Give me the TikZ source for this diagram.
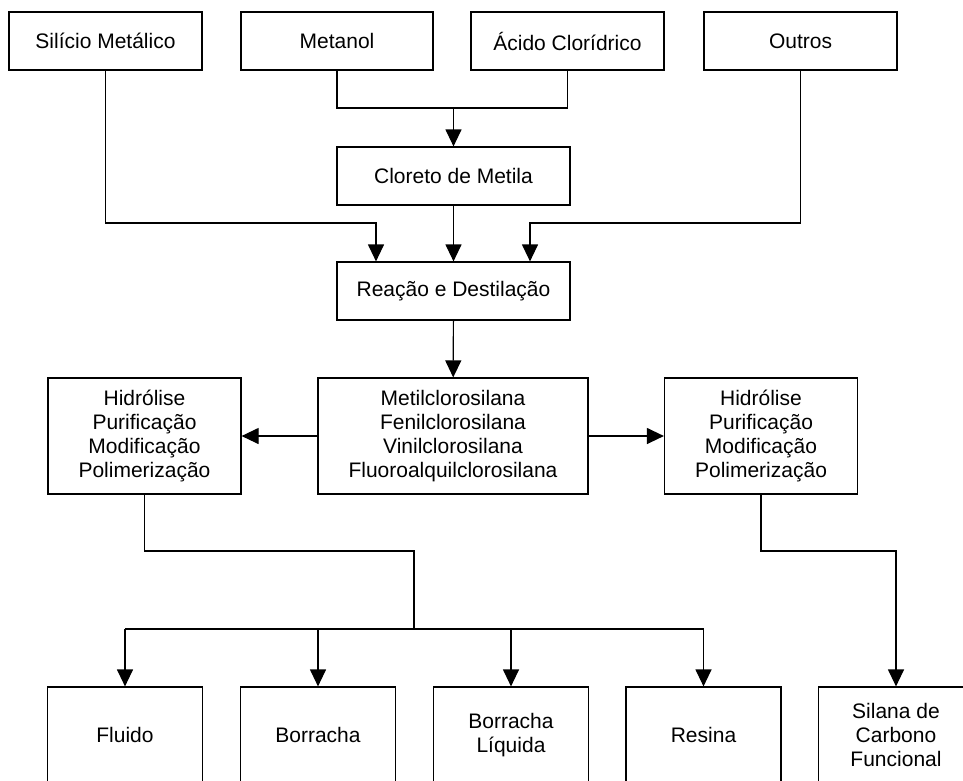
\documentclass[tikz,border=0pt]{standalone}
\usepackage{fontspec}
\setmainfont{Liberation Sans}
\usepackage{tikz}
\usetikzlibrary{arrows.meta}

\begin{document}
\begin{tikzpicture}[x=1pt,y=-1pt,>={Triangle[width=16pt,length=17pt]},line width=1.2pt,
    font=\fontsize{21}{24}\selectfont]

        \tikzstyle{caixa}=[draw=black,fill=white,text=black,align=center,inner sep=0pt,
            minimum height=58pt]
        \tikzstyle{grande}=[caixa,minimum height=116pt]
        \tikzstyle{fundo}=[caixa,minimum width=155pt,minimum height=96pt]

        \useasboundingbox (0,0) rectangle (963,780);
        \clip (0,0) rectangle (963,780);
        \fill[white] (0,0) rectangle (963,780);

        % entradas
        \node[caixa,minimum width=193pt] (sil)  at (105.5,41)  {Silício Metálico};
        \node[caixa,minimum width=192pt] (met)  at (337,41)    {Metanol};
        \node[caixa,minimum width=193pt] (acid) at (567.5,41)  {Ácido Clorídrico};
        \node[caixa,minimum width=193pt] (out)  at (800.5,41)  {Outros};

        \node[caixa,minimum width=233pt] (clo)  at (453.5,176) {Cloreto de Metila};
        \node[caixa,minimum width=233pt] (rea)  at (453.5,291) {Reação e Destilação};

        \node[grande,minimum width=270pt] (cls)  at (453,436)   {Metilclorosilana\\Fenilclorosilana\\Vinilclorosilana\\Fluoroalquilclorosilana};
        \node[grande,minimum width=193pt] (hidL) at (144.5,436) {Hidrólise\\Purificação\\Modificação\\Polimerização};
        \node[grande,minimum width=193pt] (hidR) at (761,436)   {Hidrólise\\Purificação\\Modificação\\Polimerização};

        % produtos
        \node[fundo] (flu)  at (125,735)   {Fluido};
        \node[fundo] (bor)  at (318,735)   {Borracha};
        \node[fundo] (borl) at (511,735)   {Borracha\\Líquida};
        \node[fundo] (res)  at (703.5,735) {Resina};
        \node[fundo] (sfc)  at (896,735)   {Silana de\\Carbono\\Funcional};

        \coordinate (j1) at (453.5,108);
        \coordinate (j2) at (0,223);
        \coordinate (j3) at (414,551);
        \coordinate (j4) at (414,629);

        \draw (met.south) |- (j1) -| (acid.south);
        \draw[->] (j1) -- (clo.north);
        \draw[->] (sil.south) |- ([xshift=-77.5pt]rea.north |- j2) -- ([xshift=-77.5pt]rea.north);
        \draw[->] (out.south) |- ([xshift=76.5pt]rea.north |- j2) -- ([xshift=76.5pt]rea.north);
        \draw[->] (clo) -- (rea);
        \draw[->] (rea) -- (cls);
        \draw[->] (cls) -- (hidL);
        \draw[->] (cls) -- (hidR);

        \draw (hidL.south) |- (j3) -- (j4);
        \draw (flu.north |- j4) -- (res.north |- j4);
        \foreach \n in {flu,bor,borl,res}
            \draw[->] (\n.north |- j4) -- (\n.north);
        \draw[->] (hidR.south) |- (sfc.north |- j3) -- (sfc.north);

    \end{tikzpicture}
\end{document}
